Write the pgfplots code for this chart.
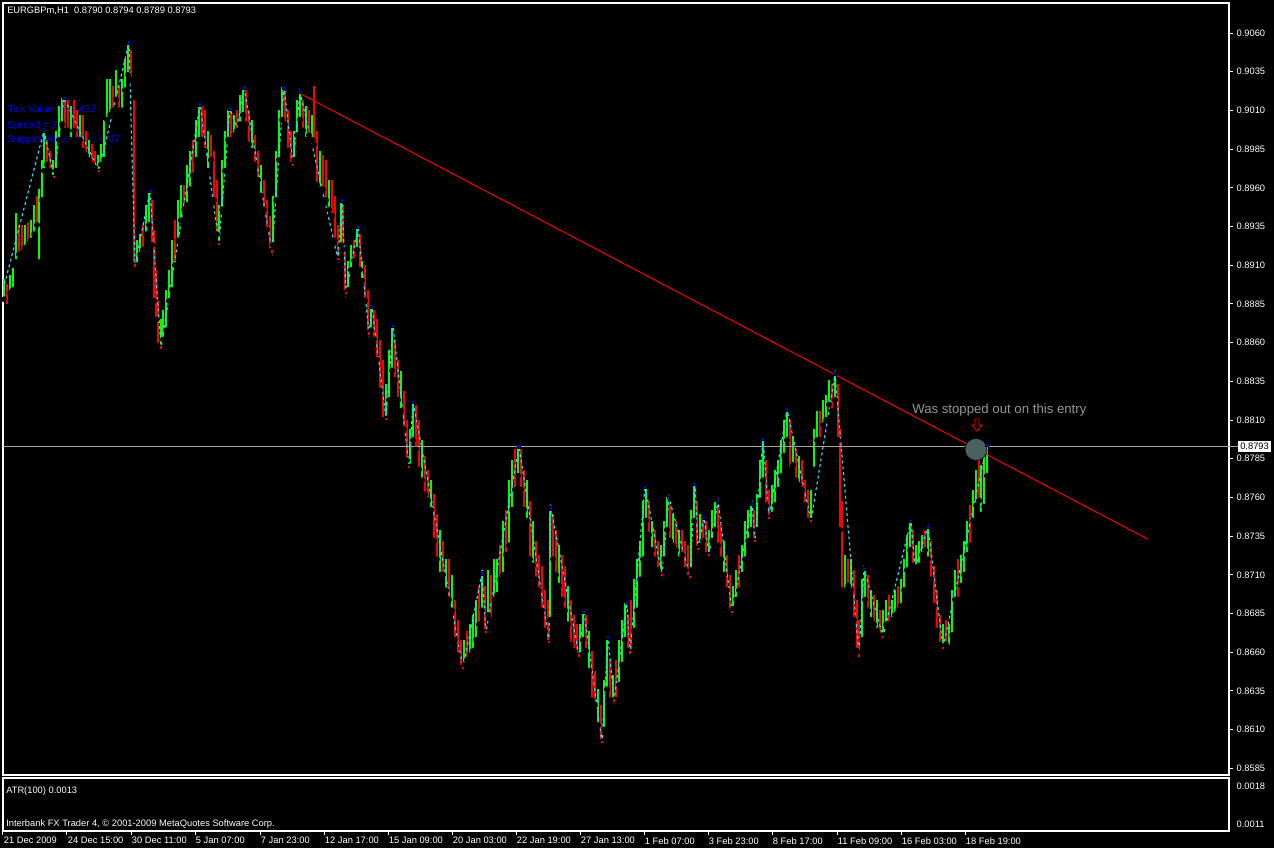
\documentclass[border=0pt]{standalone}
\usepackage{pgfplots}
\pgfplotsset{compat=1.18}
\usepackage{pgfplotstable}
\usepackage{fontspec}
\setmainfont{Liberation Sans}
\definecolor{barG}{RGB}{0,255,0}
\definecolor{barR}{RGB}{255,0,0}
\definecolor{zz}{RGB}{40,225,245}
\definecolor{pkB}{RGB}{0,0,255}
\definecolor{txtB}{RGB}{0,0,235}
\definecolor{grayL}{RGB}{165,165,165}
\definecolor{grayT}{RGB}{150,150,150}
\definecolor{circ}{RGB}{72,98,98}
\newcommand\tf{\fontsize{7}{8.4}\selectfont}

\pgfplotstableread{
x lo hi
4 0.8888 0.8901
10 0.8892 0.8904
13 0.8894 0.8908
16 0.8912 0.8944
25 0.8921 0.8936
31 0.8926 0.8939
34 0.8930 0.8949
39 0.8912 0.8959
42 0.8952 0.8978
44 0.8971 0.8997
53 0.8966 0.8978
56 0.8971 0.8997
59 0.8991 0.9013
62 0.9001 0.9018
71 0.8991 0.9013
80 0.8991 0.9007
89 0.8978 0.8991
98 0.8970 0.8981
101 0.8975 0.8988
104 0.8978 0.9004
107 0.9004 0.9030
110 0.9007 0.9030
116 0.9017 0.9036
122 0.9010 0.9030
125 0.9023 0.9043
128 0.9033 0.9054
137 0.8910 0.8926
140 0.8917 0.8930
146 0.8930 0.8949
149 0.8936 0.8958
161 0.8856 0.8875
163 0.8862 0.8881
166 0.8868 0.8894
169 0.8887 0.8907
172 0.8894 0.8926
178 0.8926 0.8952
181 0.8939 0.8962
187 0.8949 0.8975
190 0.8959 0.8984
196 0.8978 0.9004
199 0.8991 0.9014
208 0.8971 0.8997
219 0.8924 0.8949
222 0.8946 0.8978
225 0.8971 0.8997
228 0.8991 0.9010
234 0.8994 0.9007
240 0.9001 0.9020
243 0.9007 0.9025
252 0.8984 0.9004
261 0.8955 0.8975
273 0.8923 0.8955
276 0.8952 0.8984
279 0.8978 0.9010
282 0.9004 0.9025
294 0.8978 0.8997
297 0.8994 0.9017
300 0.9004 0.9022
306 0.8991 0.9013
312 0.8991 0.9007
320 0.8959 0.8984
329 0.8946 0.8965
341 0.8923 0.8952
348 0.8894 0.8913
351 0.8907 0.8923
357 0.8920 0.8936
362 0.8900 0.8913
371 0.8868 0.8884
386 0.8811 0.8833
389 0.8823 0.8855
392 0.8842 0.8871
401 0.8816 0.8842
410 0.8780 0.8804
413 0.8797 0.8822
422 0.8771 0.8797
431 0.8752 0.8771
440 0.8710 0.8739
446 0.8700 0.8720
452 0.8687 0.8710
464 0.8652 0.8668
470 0.8658 0.8678
473 0.8661 0.8684
476 0.8668 0.8694
482 0.8687 0.8713
488 0.8684 0.8713
494 0.8694 0.8720
497 0.8697 0.8720
503 0.8710 0.8745
509 0.8729 0.8771
512 0.8752 0.8784
518 0.8774 0.8793
527 0.8745 0.8771
533 0.8716 0.8745
550 0.8681 0.8752
559 0.8703 0.8729
568 0.8678 0.8703
580 0.8658 0.8678
583 0.8668 0.8686
589 0.8648 0.8674
598 0.8613 0.8636
604 0.8610 0.8642
607 0.8636 0.8668
613 0.8629 0.8645
619 0.8639 0.8668
622 0.8652 0.8681
625 0.8668 0.8692
634 0.8674 0.8707
637 0.8687 0.8720
640 0.8707 0.8732
643 0.8720 0.8758
646 0.8745 0.8767
652 0.8726 0.8745
661 0.8710 0.8729
664 0.8720 0.8745
667 0.8739 0.8760
673 0.8729 0.8749
679 0.8720 0.8739
691 0.8713 0.8752
694 0.8745 0.8768
700 0.8729 0.8749
709 0.8723 0.8739
712 0.8732 0.8752
715 0.8739 0.8757
724 0.8710 0.8732
733 0.8688 0.8703
736 0.8694 0.8713
742 0.8710 0.8729
745 0.8720 0.8745
748 0.8732 0.8752
751 0.8739 0.8756
757 0.8739 0.8762
760 0.8758 0.8784
763 0.8771 0.8797
772 0.8749 0.8768
775 0.8755 0.8778
778 0.8765 0.8784
781 0.8774 0.8797
784 0.8787 0.8810
787 0.8797 0.8816
793 0.8781 0.8800
799 0.8768 0.8787
811 0.8745 0.8765
814 0.8778 0.8804
817 0.8797 0.8816
823 0.8807 0.8823
826 0.8810 0.8826
829 0.8820 0.8836
835 0.8823 0.8840
845 0.8700 0.8723
851 0.8700 0.8720
862 0.8668 0.8707
865 0.8694 0.8714
871 0.8681 0.8700
877 0.8674 0.8694
883 0.8671 0.8687
886 0.8678 0.8694
892 0.8681 0.8694
895 0.8684 0.8700
901 0.8690 0.8707
904 0.8700 0.8720
907 0.8713 0.8736
910 0.8726 0.8744
916 0.8714 0.8729
919 0.8716 0.8732
922 0.8723 0.8736
928 0.8720 0.8741
943 0.8663 0.8678
949 0.8663 0.8678
952 0.8671 0.8700
955 0.8694 0.8713
961 0.8703 0.8723
964 0.8710 0.8732
967 0.8723 0.8745
973 0.8745 0.8765
976 0.8755 0.8778
981 0.8749 0.8781
984 0.8754 0.8787
987 0.8774 0.8794
}\greenbars

\pgfplotstableread{
x lo hi
7 0.8883 0.8898
19 0.8917 0.8936
22 0.8918 0.8936
28 0.8923 0.8938
37 0.8936 0.8955
47 0.8975 0.8991
50 0.8971 0.8984
65 0.8997 0.9017
68 0.8997 0.9017
74 0.8997 0.9017
77 0.8991 0.9010
83 0.8984 0.9007
86 0.8981 0.8997
92 0.8975 0.8988
95 0.8973 0.8984
113 0.9010 0.9026
119 0.9010 0.9026
131 0.9030 0.9049
134 0.8910 0.9017
143 0.8920 0.8936
152 0.8923 0.8952
154 0.8887 0.8933
156 0.8875 0.8907
158 0.8858 0.8887
175 0.8910 0.8939
184 0.8946 0.8962
193 0.8968 0.8991
202 0.8991 0.9013
205 0.8984 0.9010
211 0.8978 0.8994
214 0.8952 0.8984
217 0.8930 0.8965
231 0.8991 0.9009
237 0.8997 0.9010
246 0.9001 0.9023
249 0.8988 0.9010
255 0.8975 0.8994
258 0.8965 0.8984
264 0.8946 0.8965
267 0.8933 0.8952
270 0.8919 0.8942
285 0.9001 0.9023
288 0.8984 0.9010
291 0.8975 0.8997
303 0.8997 0.9017
309 0.8994 0.9010
314 0.8988 0.9026
317 0.8962 0.8997
323 0.8959 0.8981
326 0.8952 0.8978
332 0.8942 0.8965
335 0.8926 0.8955
338 0.8914 0.8936
343 0.8920 0.8949
345 0.8892 0.8920
354 0.8913 0.8926
360 0.8907 0.8930
365 0.8887 0.8910
368 0.8866 0.8894
374 0.8862 0.8881
377 0.8849 0.8875
380 0.8829 0.8862
383 0.8810 0.8849
395 0.8836 0.8862
398 0.8823 0.8849
404 0.8804 0.8829
407 0.8784 0.8810
416 0.8791 0.8820
419 0.8778 0.8810
425 0.8762 0.8787
428 0.8758 0.8778
434 0.8732 0.8762
437 0.8720 0.8749
443 0.8710 0.8732
449 0.8694 0.8720
455 0.8668 0.8694
458 0.8658 0.8681
461 0.8650 0.8668
467 0.8655 0.8674
479 0.8678 0.8703
485 0.8673 0.8703
491 0.8681 0.8710
500 0.8707 0.8729
506 0.8723 0.8752
515 0.8765 0.8791
521 0.8765 0.8791
524 0.8752 0.8778
530 0.8720 0.8758
536 0.8707 0.8732
539 0.8700 0.8723
542 0.8687 0.8716
545 0.8674 0.8700
548 0.8666 0.8694
553 0.8720 0.8749
556 0.8710 0.8739
562 0.8694 0.8723
565 0.8687 0.8716
571 0.8665 0.8694
574 0.8661 0.8684
577 0.8658 0.8678
586 0.8661 0.8684
592 0.8629 0.8661
595 0.8626 0.8648
601 0.8602 0.8626
610 0.8629 0.8655
616 0.8629 0.8655
628 0.8661 0.8684
631 0.8660 0.8694
649 0.8736 0.8758
655 0.8720 0.8739
658 0.8713 0.8732
670 0.8732 0.8755
676 0.8726 0.8745
682 0.8723 0.8739
685 0.8713 0.8732
688 0.8708 0.8729
697 0.8727 0.8758
703 0.8732 0.8747
706 0.8723 0.8745
718 0.8729 0.8755
721 0.8720 0.8742
727 0.8700 0.8723
730 0.8686 0.8710
739 0.8700 0.8723
754 0.8732 0.8752
766 0.8755 0.8784
769 0.8747 0.8765
790 0.8778 0.8810
796 0.8771 0.8791
802 0.8765 0.8784
805 0.8755 0.8771
808 0.8745 0.8765
820 0.8797 0.8816
832 0.8816 0.8833
838 0.8797 0.8833
840 0.8739 0.8804
842 0.8700 0.8758
848 0.8703 0.8720
854 0.8681 0.8713
857 0.8661 0.8694
859 0.8658 0.8681
868 0.8687 0.8710
874 0.8678 0.8697
880 0.8671 0.8687
889 0.8678 0.8697
898 0.8687 0.8703
913 0.8716 0.8739
925 0.8726 0.8739
931 0.8707 0.8732
934 0.8690 0.8716
937 0.8674 0.8700
940 0.8665 0.8684
946 0.8665 0.8681
958 0.8694 0.8720
970 0.8729 0.8755
979 0.8758 0.8787
}\redbars

\pgfplotstableread{
x p
3 0.8894
44 0.8997
54 0.8967
64 0.9018
99 0.8971
129 0.9054
135 0.8910
150 0.8958
161 0.8857
200 0.9014
219 0.8924
230 0.9011
237 0.8999
244 0.9025
272 0.8919
284 0.9025
293 0.8975
300 0.9022
338 0.8914
342 0.8952
346 0.8892
358 0.8935
369 0.8866
372 0.8883
386 0.8811
393 0.8871
409 0.8780
413 0.8822
463 0.8650
482 0.8711
486 0.8673
519 0.8793
549 0.8667
551 0.8753
579 0.8658
584 0.8686
602 0.8602
608 0.8670
614 0.8629
627 0.8692
630 0.8660
645 0.8767
662 0.8710
669 0.8760
690 0.8709
695 0.8769
698 0.8727
704 0.8747
709 0.8723
718 0.8758
732 0.8686
752 0.8756
755 0.8732
763 0.8798
769 0.8747
787 0.8817
811 0.8745
835 0.8840
859 0.8658
864 0.8714
883 0.8670
911 0.8745
915 0.8714
928 0.8741
943 0.8663
987 0.8794
}\zigzag

\pgfplotstableread{
x p
44 0.8997
64 0.9018
129 0.9054
150 0.8958
200 0.9014
230 0.9011
244 0.9025
284 0.9025
300 0.9022
342 0.8952
358 0.8935
372 0.8883
393 0.8871
413 0.8822
482 0.8711
519 0.8793
551 0.8753
584 0.8686
608 0.8670
627 0.8692
645 0.8767
669 0.8760
695 0.8769
704 0.8747
718 0.8758
752 0.8756
763 0.8798
787 0.8817
835 0.8840
864 0.8714
911 0.8745
928 0.8741
987 0.8794
}\peaks

\pgfplotstableread{
x p
54 0.8967
99 0.8971
135 0.8910
161 0.8857
219 0.8924
272 0.8919
293 0.8975
338 0.8914
346 0.8892
369 0.8866
386 0.8811
409 0.8780
463 0.8650
486 0.8673
549 0.8667
579 0.8658
602 0.8602
614 0.8629
630 0.8660
662 0.8710
690 0.8709
698 0.8727
709 0.8723
732 0.8686
755 0.8732
769 0.8747
811 0.8745
859 0.8658
883 0.8670
943 0.8663
}\troughs

\begin{document}
\begin{tikzpicture}
\fill[black] (0,0) rectangle (955.5pt,-636pt);
\path[use as bounding box] (0,0) rectangle (955.5pt,-636pt);

% indicator text (drawn under the bars)
\node[anchor=base west, inner sep=0pt, text=txtB, font=\fontsize{7.6}{9}\selectfont] at (5.25pt,-84.75pt) {Tick Value = 1.5452};
\node[anchor=base west, inner sep=0pt, text=txtB, font=\fontsize{7.6}{9}\selectfont] at (5.25pt,-96.75pt) {Spread = 3};
\node[anchor=base west, inner sep=0pt, text=txtB, font=\fontsize{7.6}{9}\selectfont] at (5.25pt,-107.25pt) {Suggested Lotsize : 0.07};

\begin{axis}[
  at={(2.25pt,-2.25pt)}, anchor=north west,
  scale only axis, width=919.5pt, height=579pt,
  xmin=3, xmax=1229, ymin=0.85807, ymax=0.90794,
  axis line style={white, line width=0.8pt},
  xtick=\empty,
  scaled y ticks=false,
  ytick={0.8585,0.8610,0.8635,0.8660,0.8685,0.8710,0.8735,0.8760,0.8785,0.8810,0.8835,0.8860,0.8885,0.8910,0.8935,0.8960,0.8985,0.9010,0.9035,0.9060},
  yticklabels={0.8585,0.8610,0.8635,0.8660,0.8685,0.8710,0.8735,0.8760,0.8785,0.8810,0.8835,0.8860,0.8885,0.8910,0.8935,0.8960,0.8985,0.9010,0.9035,0.9060},
  ytick pos=right, yticklabel pos=right,
  tick align=outside, major tick length=3pt,
  tick style={white, line width=0.75pt},
  yticklabel style={text=white, font=\tf, anchor=west, inner sep=0pt, xshift=2.5pt},
  clip=true,
]
% marked entry
\addplot[only marks, mark=*, mark size=8.25pt, mark options={draw=none, fill=circ}] coordinates {(976,0.8791)};
% bars
\addplot[only marks, mark=none, error bars/.cd, y dir=plus, y explicit, error mark=none,
  error bar style={draw=barG, line width=1.9pt}]
  table[x=x, y=lo, y error plus expr=\thisrow{hi}-\thisrow{lo}] {\greenbars};
\addplot[only marks, mark=none, error bars/.cd, y dir=plus, y explicit, error mark=none,
  error bar style={draw=barR, line width=1.9pt}]
  table[x=x, y=lo, y error plus expr=\thisrow{hi}-\thisrow{lo}] {\redbars};
% zigzag
\addplot[zz, line width=0.85pt, dash pattern=on 2.2pt off 2.2pt] table[x=x, y=p] {\zigzag};
\addplot[only marks, mark=square*, mark size=1.2pt, mark options={draw=none, fill=pkB}] table[x=x, y=p] {\peaks};
\addplot[only marks, mark=square*, mark size=1.2pt, mark options={draw=none, fill=barR}] table[x=x, y=p] {\troughs};
% trend line
\addplot[barR, line width=0.75pt] coordinates {(300,0.9021) (1148,0.8733)};
% current price line
\addplot[grayL, line width=0.75pt] coordinates {(3,0.8793) (1229,0.8793)};
\end{axis}

\begin{axis}[
  at={(2.25pt,-583.5pt)}, anchor=north west,
  scale only axis, width=919.5pt, height=39.75pt,
  xmin=3, xmax=1229, ymin=0.000971, ymax=0.001947,
  axis line style={white, line width=0.8pt},
  scaled x ticks=false, scaled y ticks=false,
  xtick={3,67,131,195,260,324,388,452,516,580,644,708,772,837,901,965},
  xticklabels={21 Dec 2009,24 Dec 15:00,30 Dec 11:00,5 Jan 07:00,7 Jan 23:00,12 Jan 17:00,15 Jan 09:00,20 Jan 03:00,22 Jan 19:00,27 Jan 13:00,1 Feb 07:00,3 Feb 23:00,8 Feb 17:00,11 Feb 09:00,16 Feb 03:00,18 Feb 19:00},
  xtick pos=bottom,
  xticklabel style={text=white, font=\tf, anchor=north west, inner sep=0pt, xshift=0.5pt, yshift=-1.5pt},
  ytick={0.0011,0.0018}, yticklabels={0.0011,0.0018},
  ytick pos=right, yticklabel pos=right,
  yticklabel style={text=white, font=\tf, anchor=west, inner sep=0pt, xshift=2.5pt},
  tick align=outside, major tick length=3pt,
  tick style={white, line width=0.75pt},
  ytick style={draw=none},
]
\end{axis}

% texts and annotations
\node[anchor=base west, inner sep=0pt, text=white, font=\tf] at (5.25pt,-10.5pt) {EURGBPm,H1\ \ 0.8790 0.8794 0.8789 0.8793};
\node[anchor=base west, inner sep=0pt, text=white, font=\tf] at (4.5pt,-594.75pt) {ATR(100) 0.0013};
\node[anchor=base west, inner sep=0pt, text=white, font=\tf] at (4.5pt,-619.9pt) {Interbank FX Trader 4, © 2001-2009 MetaQuotes Software Corp.};
\node[anchor=base west, inner sep=0pt, text=grayT, font=\fontsize{9.9}{11}\selectfont] at (684pt,-309.75pt) {Was stopped out on this entry};
\draw[barR, line width=0.6pt] (731.25pt,-314.25pt) -- (734.25pt,-314.25pt) -- (734.25pt,-318.75pt) -- (736.5pt,-318.75pt) -- (732.75pt,-323.25pt) -- (729pt,-318.75pt) -- (731.25pt,-318.75pt) -- cycle;
\draw[grayL, line width=0.75pt] (921.75pt,-334.5pt) -- (929.25pt,-334.5pt);
\node[anchor=west, fill=white, text=black, font=\tf, inner xsep=1.5pt, inner ysep=0pt, minimum height=8.25pt] at (928.5pt,-334.5pt) {0.8793};
\end{tikzpicture}
\end{document}
